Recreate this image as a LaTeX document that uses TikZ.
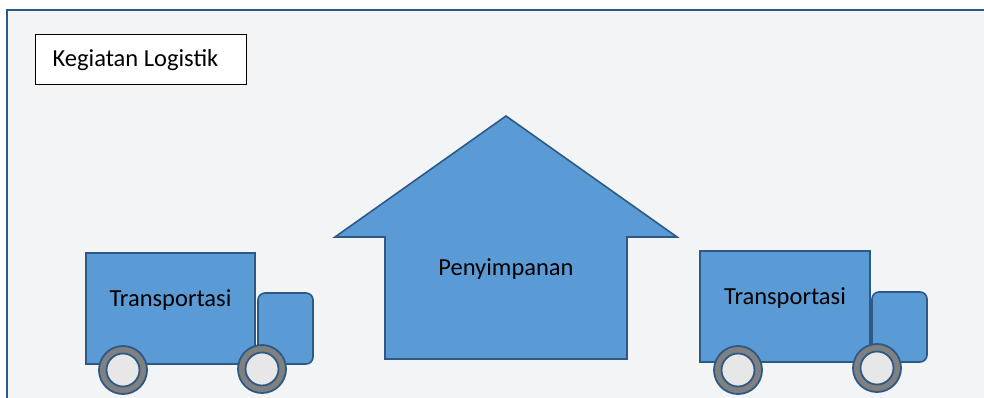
\documentclass[tikz,border=0pt]{standalone}
\usepackage{fontspec}
\setmainfont{Carlito}
\begin{document}
\begin{tikzpicture}[x=1pt,y=-1pt,
  blueshape/.style={draw=shapeline,fill=shapefill,line width=1.6pt,line join=miter},
  tyreouter/.style={circle,draw=shapeline,fill=tyregray,line width=1.8pt,minimum size=48pt,inner sep=0pt},
  tyreinner/.style={circle,draw=shapeline,fill=tyrelight,line width=1.8pt,minimum size=33pt,inner sep=0pt},
  lbl/.style={font=\fontsize{24.5}{28}\selectfont,text=black,inner sep=0pt}]
\definecolor{shapefill}{HTML}{5B9BD5}
\definecolor{shapeline}{HTML}{2D5986}
\definecolor{tyregray}{HTML}{808080}
\definecolor{tyrelight}{HTML}{E7E7E7}
\definecolor{bgpanel}{HTML}{F3F4F6}
\definecolor{frameline}{HTML}{2D5986}
\useasboundingbox (0,0) rectangle (984,397);
\clip (0,0) rectangle (984,397);
\fill[white] (0,0) rectangle (984,397);
\draw[frameline,fill=bgpanel,line width=2pt] (7,10) rectangle (1010,420);
% title
\node[draw=black,fill=white,line width=1pt,minimum width=211pt,minimum height=50pt,inner sep=0pt] (titlebox) at (141,59.5) {};
\node[lbl] (title) at (135.5,60) {Kegiatan Logistik};
% left truck
\draw[blueshape] (86,253) rectangle (255,364);
\draw[blueshape,rounded corners=7pt] (258,293) rectangle (313,364);
\node[lbl] (t1) at (170.5,300) {Transportasi};
\node[tyreouter] (w1a) at (123,370) {};
\node[tyreinner] (w1ai) at (w1a) {};
\node[tyreouter] (w1b) at (262,369) {};
\node[tyreinner] (w1bi) at (w1b) {};
% house
\draw[blueshape] (506,116) -- (677,237) -- (627,237) -- (627,359) -- (385,359) -- (385,237) -- (335,237) -- cycle;
\node[lbl] (house) at (506,269) {Penyimpanan};
% right truck
\draw[blueshape] (700,251) rectangle (870,362);
\draw[blueshape,rounded corners=7pt] (872,292) rectangle (927,362);
\node[lbl] (t2) at (785,298) {Transportasi};
\node[tyreouter] (w2a) at (738,370) {};
\node[tyreinner] (w2ai) at (w2a) {};
\node[tyreouter] (w2b) at (877,368) {};
\node[tyreinner] (w2bi) at (w2b) {};
\end{tikzpicture}
\end{document}
